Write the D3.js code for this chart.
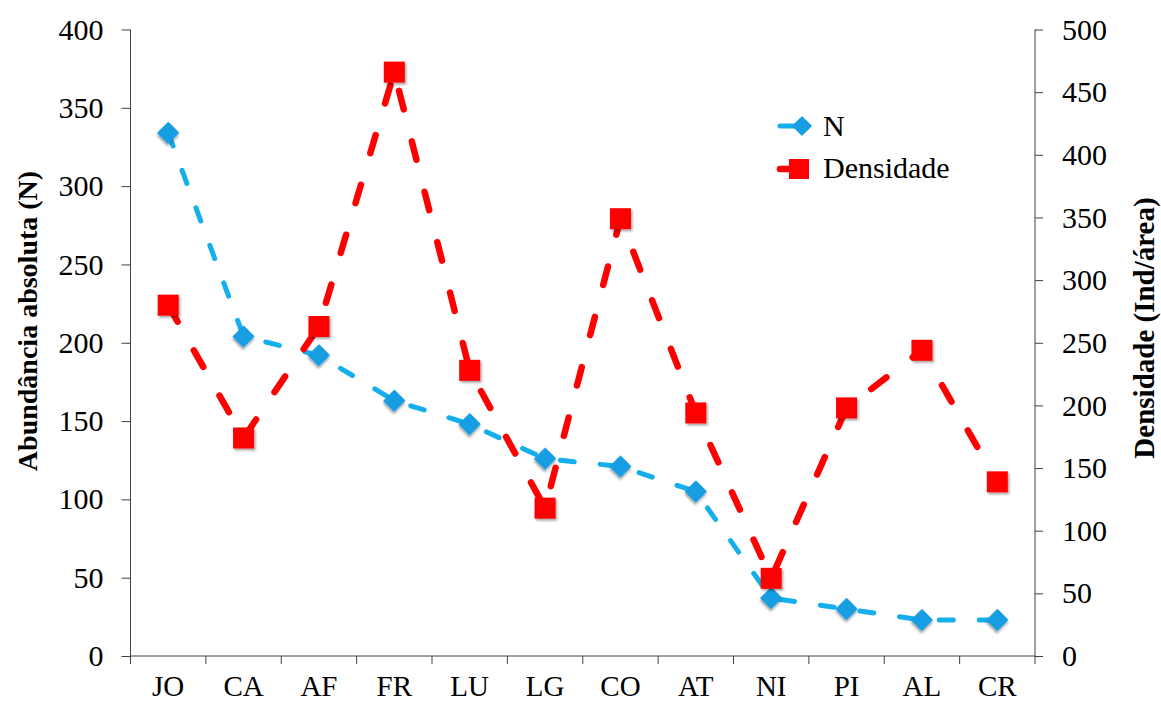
<!DOCTYPE html>
<html><head><meta charset="utf-8">
<script src="https://cdn.jsdelivr.net/npm/d3@7"></script>
<style>body{margin:0;background:#fff}svg{display:block}text{font-family:"Liberation Serif","Times New Roman",serif;fill:#000}</style>
</head><body><svg id="c" width="1161" height="702"></svg>
<script>
const categories = ["JO","CA","AF","FR","LU","LG","CO","AT","NI","PI","AL","CR"];
const seriesN = [334,204,192,163,148,126,121,105,37,30,23,23];
const seriesDens = [280,174,263,466,228,118,349,194,62,198,244,139];
const leftTicks = [0,50,100,150,200,250,300,350,400];
const rightTicks = [0,50,100,150,200,250,300,350,400,450,500];
const seriesNames = ["N","Densidade"];

const svg = d3.select("#c");
const L = 130.5, R = 1035, T = 29.5, B = 656;
const x = d3.scaleBand().domain(categories).range([L, R]);
const yL = d3.scaleLinear().domain([0,400]).range([B, T]);
const yR = d3.scaleLinear().domain([0,500]).range([B, T]);

const defs = svg.append("defs");
const f = defs.append("filter").attr("id","sh").attr("x","-50%").attr("y","-50%").attr("width","200%").attr("height","200%");
f.append("feDropShadow").attr("dx",1.5).attr("dy",2).attr("stdDeviation",1.2).attr("flood-color","#000").attr("flood-opacity",0.35);

const axisColor = "#404040";
const FS = "30px";
// left axis
const gL = svg.append("g").attr("transform",`translate(${L},0)`)
  .call(d3.axisLeft(yL).tickValues(leftTicks).tickSize(9).tickPadding(18));
// right axis
const gR = svg.append("g").attr("transform",`translate(${R},0)`)
  .call(d3.axisRight(yR).tickValues(rightTicks).tickSize(8).tickPadding(19));
[gL,gR].forEach(g=>{
  g.select(".domain").attr("stroke",axisColor).attr("d",`M0,${T}V${B}`);
  g.selectAll(".tick line").attr("stroke",axisColor);
  g.selectAll("text").style("font-size",FS);
});
// bottom axis
const gB = svg.append("g").attr("transform",`translate(0,${B})`)
  .call(d3.axisBottom(x).tickSize(0).tickPadding(19));
gB.select(".domain").attr("stroke",axisColor).attr("d",`M${L},0H${R}`);
gB.selectAll("text").style("font-size","29px");
const edges = categories.map(c=>x(c)).concat([R]);
gB.selectAll(".edge").data(edges).enter().append("line")
  .attr("x1",d=>d).attr("x2",d=>d).attr("y1",0).attr("y2",8).attr("stroke",axisColor);

// axis titles
svg.append("text").attr("transform",`translate(37,321) rotate(-90)`)
  .attr("text-anchor","middle").style("font-size","28px").style("font-weight","bold")
  .text("Abundância absoluta (N)");
svg.append("text").attr("transform",`translate(1154,328) rotate(-90)`)
  .attr("text-anchor","middle").style("font-size","29px").style("font-weight","bold")
  .text("Densidade (Ind/área)");

const cx = d => x(d) + x.bandwidth()/2;
const blueLine = "#14AFEC", blueMark = "#199DE2", red = "#FF0000";

// N series
svg.append("path").datum(seriesN.map((v,i)=>[cx(categories[i]), yL(v)]))
  .attr("d", d3.line()).attr("fill","none").attr("stroke",blueLine).attr("stroke-width",5)
  .attr("stroke-linecap","round").attr("stroke-dasharray","14 26");
const diamond = d3.symbol().type(d3.symbolSquare).size(190);
svg.selectAll(".nm").data(seriesN).enter().append("path")
  .attr("d", diamond).attr("fill",blueMark).attr("stroke",blueMark).attr("stroke-width",2).attr("stroke-linejoin","round")
  .attr("filter","url(#sh)")
  .attr("transform",(d,i)=>`translate(${cx(categories[i])},${yL(d)}) rotate(45)`);

// Densidade series
svg.append("path").datum(seriesDens.map((v,i)=>[cx(categories[i]), yR(v)]))
  .attr("d", d3.line()).attr("fill","none").attr("stroke",red).attr("stroke-width",6.5)
  .attr("stroke-linecap","round").attr("stroke-dasharray","19 33");
svg.selectAll(".dm").data(seriesDens).enter().append("rect")
  .attr("x",(d,i)=>cx(categories[i])-10.5).attr("y",d=>yR(d)-10.5)
  .attr("width",21).attr("height",21).attr("fill",red).attr("filter","url(#sh)");

// legend
const lg = svg.append("g");
lg.append("line").attr("x1",780).attr("x2",800).attr("y1",126).attr("y2",126)
  .attr("stroke",blueLine).attr("stroke-width",5).attr("stroke-linecap","round");
lg.append("path").attr("d",d3.symbol().type(d3.symbolSquare).size(150)).attr("fill",blueMark)
  .attr("stroke",blueMark).attr("stroke-width",2).attr("stroke-linejoin","round")
  .attr("transform","translate(802,126) rotate(45)");
lg.append("text").attr("x",823).attr("y",136).style("font-size",FS).text(seriesNames[0]);
lg.append("line").attr("x1",780).attr("x2",798).attr("y1",169).attr("y2",169)
  .attr("stroke",red).attr("stroke-width",6.5).attr("stroke-linecap","round");
lg.append("rect").attr("x",789).attr("y",159).attr("width",20).attr("height",20).attr("fill",red);
lg.append("text").attr("x",823).attr("y",178).style("font-size",FS).text(seriesNames[1]);
</script></body></html>
